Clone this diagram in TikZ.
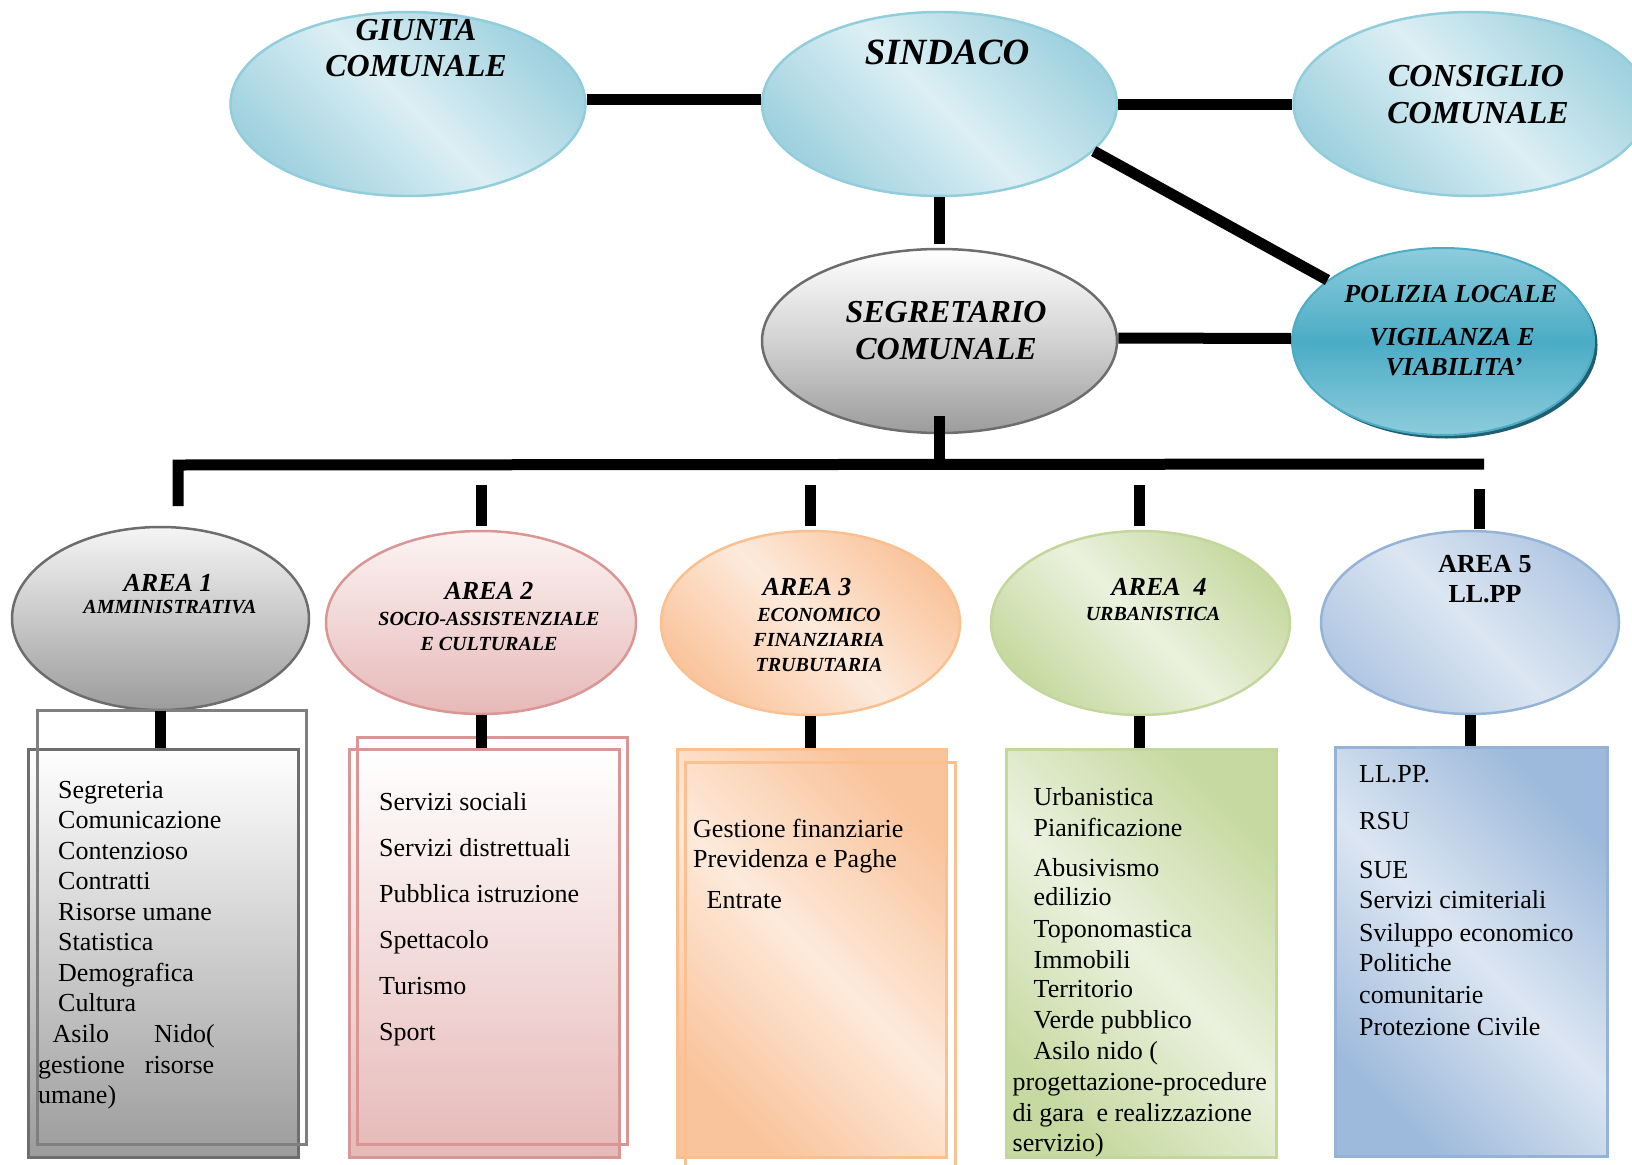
\documentclass[tikz,border=0pt]{standalone}
\usepackage{fontspec}
\setmainfont{Liberation Serif}
\usetikzlibrary{shapes.geometric}
\definecolor{aquaE}{HTML}{9FD1DF}
\definecolor{aquaL}{HTML}{DCEFF4}
\definecolor{aquaB}{HTML}{92CDDC}
\definecolor{grayB}{HTML}{6D6D6D}
\definecolor{grayD}{HTML}{9C9C9C}
\definecolor{grayF}{HTML}{6E6E6E}
\definecolor{grayK}{HTML}{7F7F7F}
\definecolor{polM}{HTML}{4BACC6}
\definecolor{polL}{HTML}{8DCCDC}
\definecolor{polS}{HTML}{215E70}
\definecolor{pinkB}{HTML}{D99694}
\definecolor{pinkD}{HTML}{E6B9B8}
\definecolor{pinkL}{HTML}{FCF3F3}
\definecolor{orB}{HTML}{FAC090}
\definecolor{orD}{HTML}{F9C49C}
\definecolor{orL}{HTML}{FDEADB}
\definecolor{grB}{HTML}{C3D69B}
\definecolor{grD}{HTML}{C6D9A0}
\definecolor{grL}{HTML}{EBF1DE}
\definecolor{blB}{HTML}{95B3D7}
\definecolor{blD}{HTML}{9DB9DB}
\definecolor{blL}{HTML}{DCE6F2}
\begin{document}
\begin{tikzpicture}[x=1pt,y=-1pt,
  topell/.style={ellipse, draw=aquaB, line width=2.5pt, inner sep=0pt,
    minimum width=355pt, minimum height=184pt,
    top color=aquaE, bottom color=aquaE, middle color=aquaL, shading angle=-45},
  segell/.style={ellipse, draw=grayB, line width=2.5pt, inner sep=0pt,
    minimum width=355pt, minimum height=184pt,
    top color=white, bottom color=grayD, middle color=gray!35!white},
  polell/.style={ellipse, draw=polM, line width=2pt, inner sep=0pt,
    minimum width=302pt, minimum height=187pt,
    top color=polL, bottom color=polL, middle color=polM},
  areaell/.style={ellipse, line width=2.5pt, inner sep=0pt, minimum height=183pt},
  boxr/.style={rectangle, line width=3pt, inner sep=0pt},
  conn/.style={line width=11pt, black},
  ttl/.style={anchor=base, inner sep=0pt, font=\bfseries\itshape\fontsize{32pt}{36pt}\selectfont},
  polt/.style={anchor=base, inner sep=0pt, font=\bfseries\itshape\fontsize{26pt}{30pt}\selectfont},
  areat/.style={anchor=base, inner sep=0pt, font=\bfseries\itshape\fontsize{26pt}{30pt}\selectfont},
  subt/.style={anchor=base, inner sep=0pt, font=\bfseries\itshape\fontsize{20pt}{24pt}\selectfont},
  bodytxt/.style={anchor=base west, inner sep=0pt, font=\fontsize{26pt}{30pt}\selectfont}
]
\useasboundingbox (0,0) rectangle (1632,1164);
\clip (0,0) rectangle (1632,1164);

% top row
\node[topell] (giunta) at (408,104) {};
\node[topell] (sindaco) at (939.5,104) {};
\node[topell] (consiglio) at (1471,104) {};
\node[segell] (segretario) at (939.5,341) {};
\node[ellipse, fill=polS, inner sep=0pt, minimum width=302pt, minimum height=187pt] (polshad) at (1446.5,345) {};
\node[polell] (polizia) at (1443,341.5) {};

\node[ttl] (giuntaA) at (416,41) {GIUNTA};
\node[ttl] (giuntaB) at (416,77) {COMUNALE};
\node[ttl, font=\bfseries\itshape\fontsize{37pt}{40pt}\selectfont] (sindacoT) at (947,64) {SINDACO};
\node[ttl] (consA) at (1476,86) {CONSIGLIO};
\node[ttl] (consB) at (1478,123) {COMUNALE};
\node[ttl] (segA) at (946,322) {SEGRETARIO};
\node[ttl] (segB) at (946,359) {COMUNALE};
\node[polt] (polA) at (1451,302) {POLIZIA LOCALE};
\node[polt] (polB) at (1452,345) {VIGILANZA E};
\node[polt] (polC) at (1454,375) {VIABILITA’};

% area ellipses
\node[areaell, draw=grayB, minimum width=297pt, top color=gray!8!white, bottom color=grayD] (a1) at (160.5,618.5) {};
\node[areaell, draw=pinkB, minimum width=310pt, top color=pinkL, bottom color=pinkD] (a2) at (481,622.5) {};
\node[areaell, draw=orB, minimum width=299pt, minimum height=184pt, top color=orD, bottom color=orD, middle color=orL, shading angle=-45] (a3) at (810.5,623) {};
\node[areaell, draw=grB, minimum width=299pt, minimum height=184pt, top color=grD, bottom color=grD, middle color=grL, shading angle=-45] (a4) at (1140.5,623) {};
\node[areaell, draw=blB, minimum width=298pt, top color=blD!80!white, bottom color=blD!80!white, middle color=blL, shading angle=-45] (a5) at (1470,622.5) {};

\node[areat] (a1A) at (168,591) {AREA 1};
\node[subt] (a1B) at (170,613) {AMMINISTRATIVA};
\node[areat] (a2A) at (489,599) {AREA 2};
\node[subt] (a2B) at (489,625) {SOCIO-ASSISTENZIALE};
\node[subt] (a2C) at (489,650) {E CULTURALE};
\node[areat] (a3A) at (807,595) {AREA 3};
\node[subt] (a3B) at (819,621) {ECONOMICO};
\node[subt] (a3C) at (819,646) {FINANZIARIA};
\node[subt] (a3D) at (819,671) {TRUBUTARIA};
\node[areat] (a4A) at (1159,595) {AREA~~4};
\node[subt] (a4B) at (1153,620) {URBANISTICA};
\node[areat, font=\bfseries\fontsize{26pt}{30pt}\selectfont] (a5A) at (1485,572) {AREA 5};
\node[areat, font=\bfseries\fontsize{26pt}{30pt}\selectfont] (a5B) at (1485,602) {LL.PP};

% boxes
\node[boxr, draw=grayF, top color=white, bottom color=grayD, minimum width=270pt, minimum height=408pt] (a1box) at (163,953) {};
\node[boxr, draw=grayK, minimum width=269pt, minimum height=434pt] (a1back) at (171.5,927) {};
\node[boxr, draw=pinkB, top color=white, bottom color=pinkD, minimum width=270pt, minimum height=408pt] (a2box) at (484,953) {};
\node[boxr, draw=pinkB, minimum width=270pt, minimum height=407pt] (a2back) at (492,940.5) {};
\node[boxr, draw=orB, top color=orD, bottom color=orD, middle color=orL, shading angle=-45, minimum width=269pt, minimum height=408pt] (a3box) at (811.5,953) {};
\node[boxr, draw=orB, minimum width=270pt, minimum height=408pt] (a3back) at (820,966) {};
\node[boxr, draw=grB, top color=grD, bottom color=grD, middle color=grL, shading angle=-45, minimum width=270pt, minimum height=408pt] (a4box) at (1141,953) {};
\node[boxr, draw=blB, top color=blD, bottom color=blD, middle color=blL, shading angle=-45, minimum width=272pt, minimum height=409pt] (a5box) at (1471,951.5) {};

% box texts
\foreach \t [count=\i] in {Segreteria, Comunicazione, Contenzioso, Contratti, Risorse umane, Statistica, Demografica, Cultura}
  \node[bodytxt] (a1t\i) at (58,{798+30.55*(\i-1)}) {\t};
\node[bodytxt] (a1t9) at (52.5,1042.4) {Asilo\hspace*{45pt}Nido(};
\node[bodytxt] (a1t10) at (38,1073) {gestione\hspace*{20pt}risorse};
\node[bodytxt] (a1t11) at (38,1103.5) {umane)};

\foreach \t [count=\i] in {Servizi sociali, Servizi distrettuali, Pubblica istruzione, Spettacolo, Turismo, Sport}
  \node[bodytxt] (a2t\i) at (379,{810+46*(\i-1)}) {\t};

\node[bodytxt] (a3t1) at (693,837) {Gestione finanziarie};
\node[bodytxt] (a3t2) at (693,867) {Previdenza e Paghe};
\node[bodytxt] (a3t3) at (706.5,908) {Entrate};

\node[bodytxt] (a4t1) at (1033.5,805) {Urbanistica};
\node[bodytxt] (a4t2) at (1033.5,836) {Pianificazione};
\node[bodytxt] (a4t3) at (1033.5,876) {Abusivismo};
\node[bodytxt] (a4t4) at (1033.5,905) {edilizio};
\node[bodytxt] (a4t5) at (1033.5,937) {Toponomastica};
\node[bodytxt] (a4t6) at (1033.5,968) {Immobili};
\node[bodytxt] (a4t7) at (1033.5,997) {Territorio};
\node[bodytxt] (a4t8) at (1033.5,1028) {Verde pubblico};
\node[bodytxt] (a4t9) at (1033.5,1059) {Asilo nido (};
\node[bodytxt] (a4t10) at (1012.5,1090) {progettazione-procedure};
\node[bodytxt] (a4t11) at (1012.5,1121) {di gara\hspace*{6pt} e realizzazione};
\node[bodytxt] (a4t12) at (1012.5,1151) {servizio)};

\node[bodytxt] (a5t1) at (1359,782) {LL.PP.};
\node[bodytxt] (a5t2) at (1359,829) {RSU};
\node[bodytxt] (a5t3) at (1359,878) {SUE};
\node[bodytxt] (a5t4) at (1359,908) {Servizi cimiteriali};
\node[bodytxt] (a5t5) at (1359,941) {Sviluppo economico};
\node[bodytxt] (a5t6) at (1359,971) {Politiche};
\node[bodytxt] (a5t7) at (1359,1003) {comunitarie};
\node[bodytxt] (a5t8) at (1359,1035) {Protezione Civile};

% connectors
\draw[conn] ([yshift=5pt]giunta.east) -- ([yshift=5pt]sindaco.west);
\draw[conn] (sindaco.east) -- (consiglio.west);
\draw[conn] (sindaco.-17.5) -- (polizia.152);
\draw[conn] (sindaco.south) -- ([yshift=-47pt]sindaco.south);
\draw[conn] ([yshift=3pt]segretario.east) -- ([yshift=3pt]polizia.west);
\coordinate (busL) at (178,465);
\coordinate (busR) at (1484,464);
\coordinate (busLd) at (178,506);
\draw[conn] ([yshift=18pt]segretario.south) -- (segretario.south |- busL);
\draw[conn, line join=miter] (busLd) -- (busL) -- (busR);
\draw[conn] ([yshift=4pt]a2.north) -- ([yshift=45pt]a2.north);
\draw[conn] ([yshift=4pt]a3.north) -- ([yshift=45pt]a3.north);
\draw[conn] ([xshift=-1.5pt,yshift=4pt]a4.north) -- ([xshift=-1.5pt,yshift=45pt]a4.north);
\draw[conn] ([xshift=9pt,yshift=1pt]a5.north) -- ([xshift=9pt,yshift=41pt]a5.north);
\draw[conn] (a1.south) -- (a1.south |- a1box.north);
\draw[conn] (a2.south) -- (a2.south |- a2box.north);
\draw[conn] (a3.south) -- (a3.south |- a3box.north);
\draw[conn] ([xshift=-1.5pt]a4.south) -- ([xshift=-1.5pt]a4.south |- a4box.north);
\draw[conn] (a5.south) -- (a5.south |- a5box.north);
\end{tikzpicture}
\end{document}
